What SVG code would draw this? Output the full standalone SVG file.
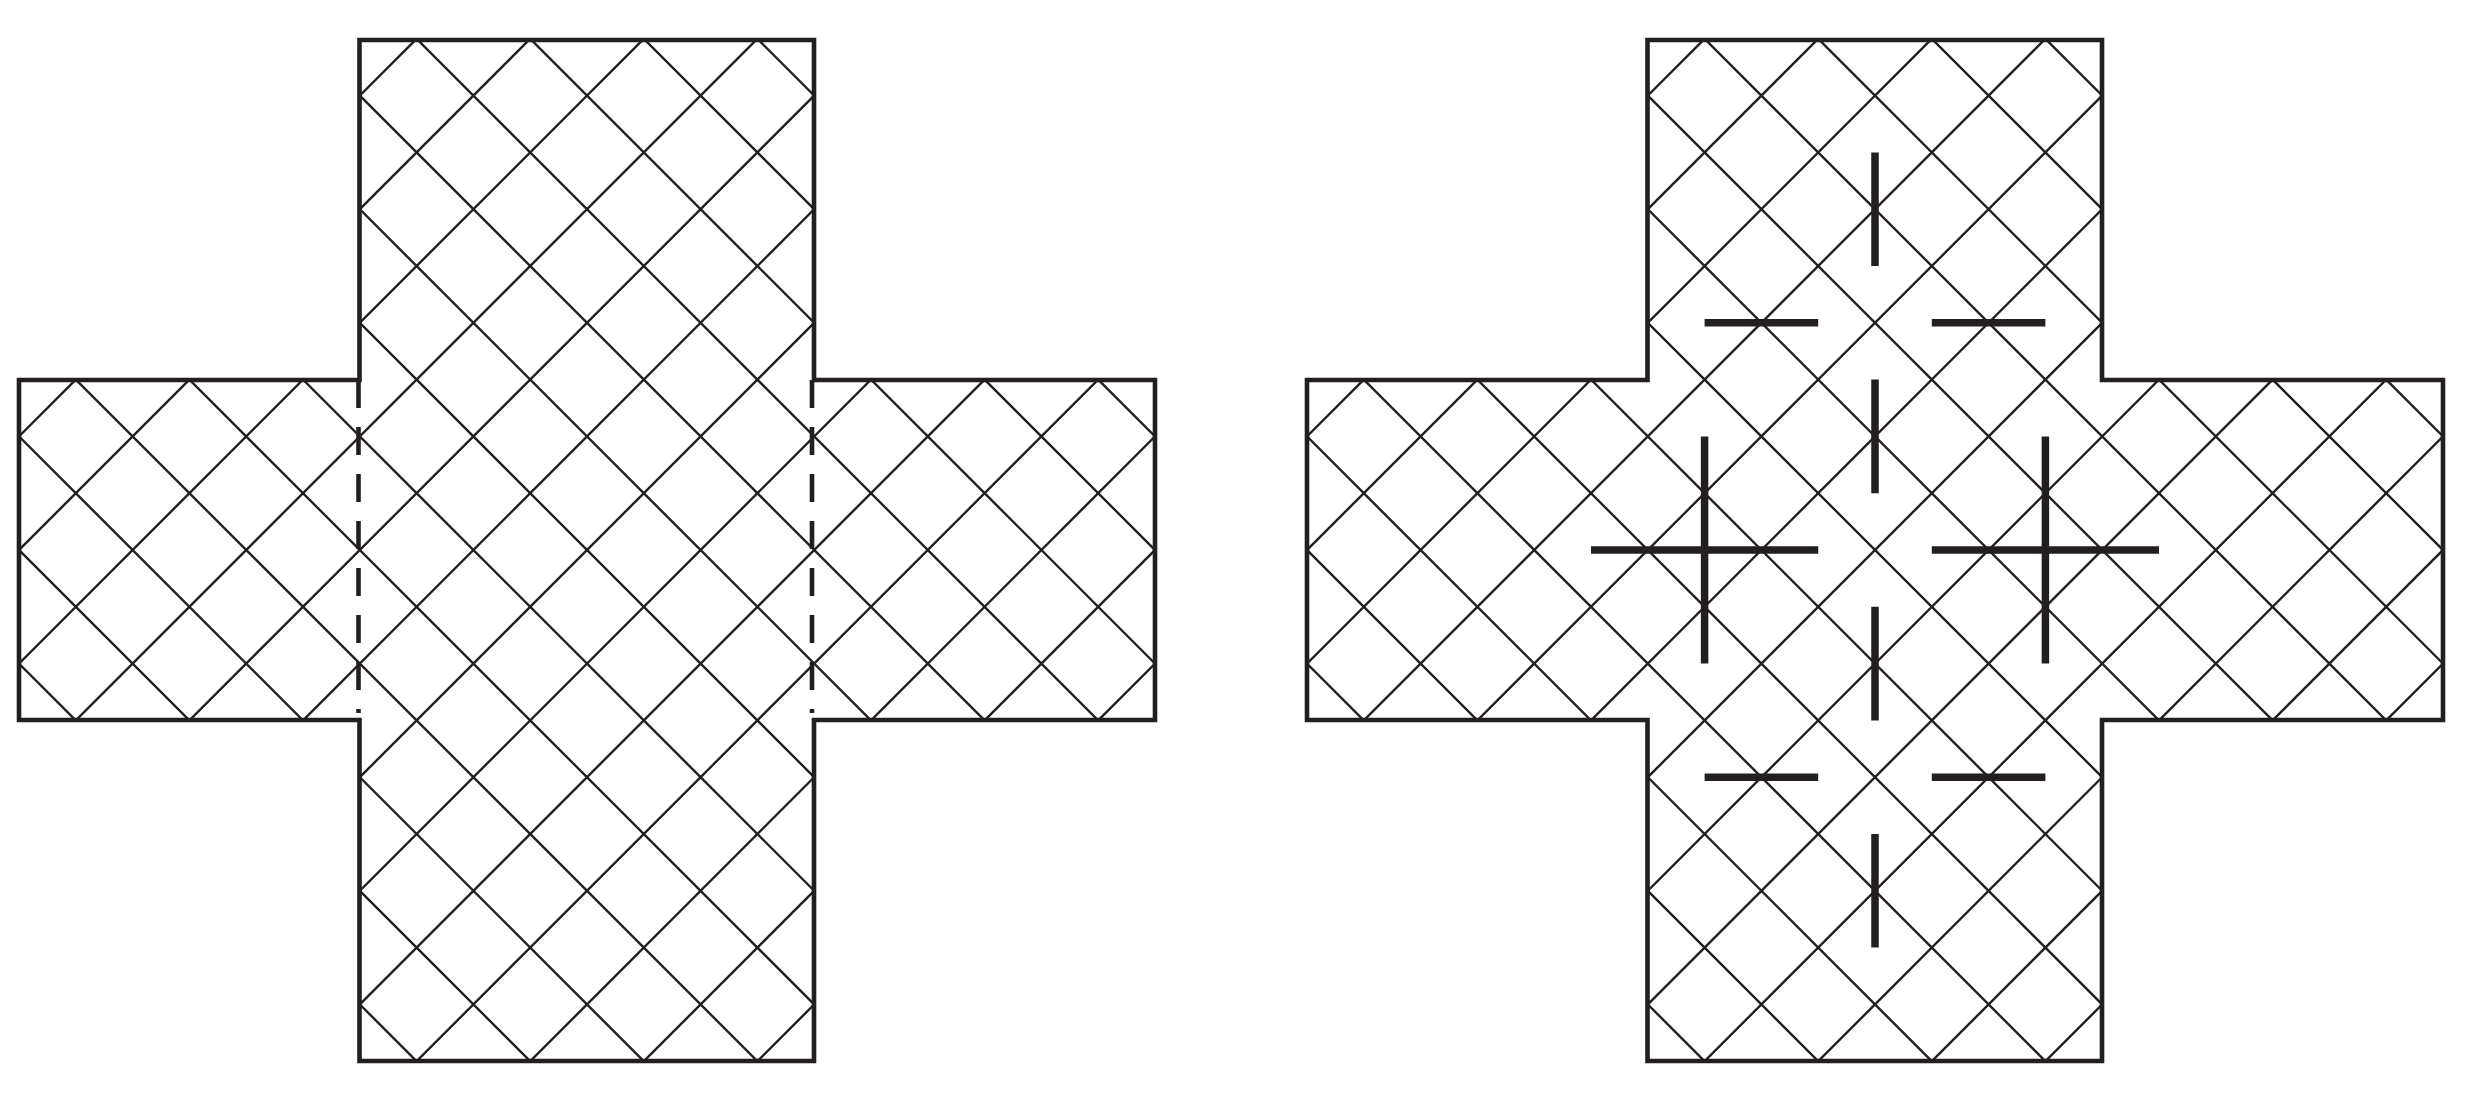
<svg xmlns="http://www.w3.org/2000/svg" xmlns:xlink="http://www.w3.org/1999/xlink" width="2477" height="1099" viewBox="0 0 2477 1099">
<style>
.bg{fill:#ffffff}
.hatch{fill:none;stroke:#231f20;stroke-width:2.4}
.outline{fill:none;stroke:#231f20;stroke-width:4.6;stroke-linejoin:miter;stroke-linecap:square}
.dash{fill:none;stroke:#231f20;stroke-width:4.6;stroke-dasharray:28 19}
.mark{fill:none;stroke:#231f20;stroke-width:7.5;stroke-linecap:butt}
</style>
<defs>
<path id="crossShape" d="M-227.5 -510H227V-170H568V170H227V511H-227.5V170H-568V-170H-227.5Z"/>
<clipPath id="crossClip" clipPathUnits="userSpaceOnUse">
<use xlink:href="#crossShape"/>
</clipPath>
<g id="hatchLines">
<path class="hatch" d="M-1542.4 -520l1040 1040M-1428.8 -520l1040 1040M-1315.2 -520l1040 1040M-1201.6 -520l1040 1040M-1088 -520l1040 1040M-974.4 -520l1040 1040M-860.8 -520l1040 1040M-747.2 -520l1040 1040M-633.6 -520l1040 1040M-520 -520l1040 1040M-406.4 -520l1040 1040M-292.8 -520l1040 1040M-179.2 -520l1040 1040M-65.6 -520l1040 1040M48 -520l1040 1040M161.6 -520l1040 1040M275.2 -520l1040 1040M388.8 -520l1040 1040M502.4 -520l1040 1040"/>
<path class="hatch" d="M-502.4 -520l-1040 1040M-388.8 -520l-1040 1040M-275.2 -520l-1040 1040M-161.6 -520l-1040 1040M-48 -520l-1040 1040M65.6 -520l-1040 1040M179.2 -520l-1040 1040M292.8 -520l-1040 1040M406.4 -520l-1040 1040M520 -520l-1040 1040M633.6 -520l-1040 1040M747.2 -520l-1040 1040M860.8 -520l-1040 1040M974.4 -520l-1040 1040M1088 -520l-1040 1040M1201.6 -520l-1040 1040M1315.2 -520l-1040 1040M1428.8 -520l-1040 1040M1542.4 -520l-1040 1040"/>
</g>
</defs>
<rect class="bg" x="0" y="0" width="2477" height="1099"/>

<g id="left-cross" transform="translate(587 550)">
<g clip-path="url(#crossClip)"><use xlink:href="#hatchLines"/></g>
<use xlink:href="#crossShape" class="outline"/>
<line class="dash" x1="-228.5" y1="-170" x2="-228.5" y2="163"/>
<line class="dash" x1="225" y1="-170" x2="225" y2="163"/>
</g>

<g id="right-cross" transform="translate(1875 550)">
<g clip-path="url(#crossClip)"><use xlink:href="#hatchLines"/></g>
<use xlink:href="#crossShape" class="outline"/>
<g id="marks">
<path class="mark" d="M0 -397.4V-284M0 -170.4V-56.8M0 56.8V170.4M0 284V397.4"/>
<path class="mark" d="M-170.4 -227.2H-56.8M56.8 -227.2H170.4M-170.4 227.2H-56.8M56.8 227.2H170.4"/>
<path class="mark" d="M-170.4 -113.6V113.6M-284 0H-56.8"/>
<path class="mark" d="M170.4 -113.6V113.6M56.8 0H284"/>
</g>
</g>
</svg>
